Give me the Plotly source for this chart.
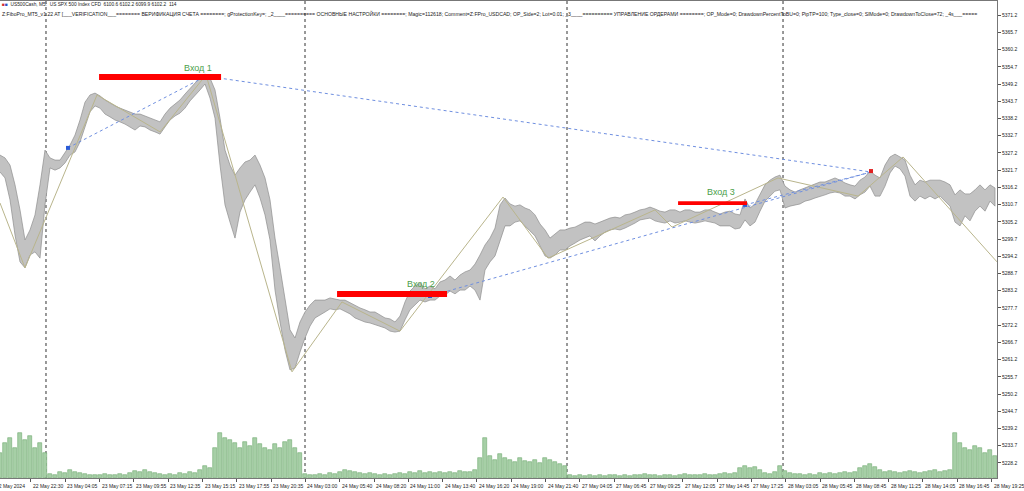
import numpy as np
import plotly.graph_objects as go

# ---------------- data ----------------
# price range per sample (each sample ~ 4.66 M5 bars)
high = [5326.5, 5325.6, 5323.3, 5317.0, 5309.0, 5299.4, 5302.6, 5307.4, 5317.0, 5328.1,
        5325.6, 5324.9, 5324.9, 5327.5, 5329.7, 5332.9, 5337.7, 5343.4, 5345.7, 5346.3,
        5345.4, 5344.1, 5343.1, 5342.2, 5341.5, 5340.9, 5340.3, 5339.6, 5339.6, 5339.0,
        5338.3, 5337.7, 5337.1, 5339.6, 5341.5, 5342.8, 5344.1, 5346.0, 5347.9, 5349.5,
        5351.1, 5352.4, 5351.1, 5347.3, 5338.3, 5328.1, 5323.3, 5320.1, 5322.4, 5324.3,
        5324.9, 5326.5, 5323.3, 5319.2, 5312.2, 5300.0, 5290.5, 5280.9, 5270.7, 5268.1,
        5273.2, 5276.4, 5278.6, 5280.2, 5280.2, 5280.2, 5280.9, 5280.6, 5280.2, 5280.2,
        5279.3, 5278.6, 5277.7, 5277.1, 5276.4, 5276.4, 5275.5, 5274.5, 5274.2, 5273.2,
        5275.1, 5279.6, 5283.1, 5284.7, 5285.7, 5283.8, 5284.7, 5283.8, 5286.0, 5286.6,
        5287.9, 5286.6, 5288.2, 5289.2, 5289.8, 5291.7, 5294.6, 5297.8, 5300.0, 5303.2,
        5310.6, 5312.8, 5310.9, 5310.2, 5310.6, 5309.6, 5309.0, 5307.4, 5304.5, 5302.6,
        5300.0, 5301.3, 5302.6, 5302.6, 5303.2, 5303.5, 5304.2, 5305.1, 5305.1, 5304.5,
        5305.1, 5305.8, 5306.4, 5306.7, 5306.4, 5307.4, 5307.7, 5308.3, 5309.0, 5309.3,
        5309.9, 5309.3, 5308.6, 5308.3, 5309.0, 5309.0, 5308.3, 5309.0, 5309.0, 5308.3,
        5308.3, 5309.0, 5309.0, 5308.3, 5307.7, 5308.3, 5308.6, 5307.7, 5307.4, 5312.5,
        5309.6, 5310.9, 5314.1, 5317.0, 5318.5, 5319.5, 5320.1, 5316.6, 5315.4, 5314.7,
        5315.4, 5316.0, 5316.6, 5317.3, 5317.9, 5317.9, 5318.5, 5319.2, 5318.5, 5317.6,
        5317.0, 5316.6, 5318.5, 5319.5, 5321.4, 5320.1, 5319.2, 5323.3, 5325.9, 5326.8,
        5325.9, 5324.9, 5320.1, 5317.0, 5318.5, 5317.9, 5318.5, 5318.5, 5318.5, 5317.9,
        5317.0, 5313.8, 5315.4, 5314.1, 5314.1, 5315.4, 5317.0, 5315.4, 5317.0, 5316.0]
low = [5321.1, 5319.2, 5312.2, 5301.0, 5292.4, 5290.5, 5294.6, 5295.6, 5293.6, 5310.6,
       5322.4, 5321.7, 5322.4, 5324.0, 5326.5, 5327.5, 5330.7, 5335.1, 5340.3, 5342.2,
       5341.5, 5339.6, 5338.7, 5337.7, 5337.1, 5336.4, 5335.5, 5334.5, 5335.8, 5335.5,
       5334.5, 5333.9, 5333.2, 5335.5, 5337.7, 5339.0, 5339.9, 5341.5, 5343.8, 5345.7,
       5347.3, 5349.2, 5344.7, 5338.3, 5323.3, 5310.6, 5305.1, 5300.0, 5308.3, 5312.2,
       5314.7, 5317.0, 5312.8, 5307.4, 5299.4, 5283.4, 5273.2, 5264.3, 5257.9, 5258.5,
       5263.6, 5268.1, 5271.9, 5274.5, 5275.5, 5276.4, 5277.4, 5277.1, 5277.4, 5276.7,
       5275.8, 5274.5, 5273.9, 5273.2, 5272.9, 5272.3, 5271.9, 5271.3, 5270.3, 5270.0,
       5270.3, 5273.9, 5277.1, 5278.6, 5280.2, 5279.6, 5280.2, 5280.2, 5281.5, 5281.8,
       5283.1, 5282.2, 5283.4, 5283.4, 5284.7, 5283.4, 5280.2, 5289.8, 5292.4, 5294.3,
       5299.4, 5303.9, 5303.9, 5305.1, 5305.5, 5303.9, 5302.3, 5300.7, 5297.5, 5294.3,
       5293.6, 5294.6, 5296.2, 5296.2, 5297.5, 5298.4, 5299.4, 5300.0, 5300.7, 5299.1,
       5300.7, 5301.9, 5302.6, 5302.9, 5302.6, 5303.2, 5303.9, 5304.8, 5305.8, 5306.1,
       5306.4, 5305.5, 5305.1, 5304.8, 5305.5, 5304.8, 5305.1, 5305.5, 5305.1, 5304.8,
       5305.1, 5305.5, 5305.1, 5304.8, 5303.9, 5303.9, 5303.9, 5302.9, 5303.2, 5305.8,
       5303.9, 5305.1, 5308.6, 5311.8, 5313.4, 5315.0, 5315.4, 5309.6, 5310.2, 5310.6,
       5310.9, 5311.8, 5312.2, 5312.8, 5313.4, 5313.8, 5314.4, 5314.7, 5314.4, 5313.4,
       5313.4, 5312.5, 5313.8, 5314.7, 5316.6, 5313.4, 5313.4, 5316.6, 5320.8, 5323.0,
       5322.1, 5319.8, 5313.4, 5311.8, 5313.4, 5312.5, 5313.4, 5312.5, 5313.4, 5311.8,
       5310.2, 5305.1, 5303.9, 5307.1, 5305.5, 5308.6, 5310.2, 5308.6, 5311.8, 5310.2]
volume = [750, 1050, 1200, 900, 1350, 1140, 1260, 900, 1050, 750,
          120, 90, 180, 150, 240, 180, 150, 120, 90, 90,
          90, 120, 90, 90, 120, 90, 150, 210, 180, 240,
          180, 150, 120, 90, 120, 90, 150, 120, 180, 150,
          240, 360, 300, 900, 1350, 1200, 1140, 1050, 900, 1080,
          960, 1200, 1020, 900, 840, 1020, 900, 1080, 1140, 900,
          750, 120, 90, 90, 120, 90, 150, 120, 180, 240,
          210, 180, 150, 120, 150, 120, 90, 120, 90, 120,
          150, 120, 180, 150, 210, 150, 180, 150, 180, 150,
          180, 150, 210, 180, 180, 240, 600, 1200, 660, 540,
          720, 600, 540, 480, 600, 510, 480, 540, 450, 600,
          540, 480, 420, 360, 90, 60, 90, 60, 90, 60,
          90, 60, 90, 90, 60, 90, 60, 90, 90, 120,
          90, 90, 60, 90, 90, 60, 90, 120, 90, 90,
          90, 120, 90, 90, 120, 150, 120, 150, 300, 360,
          300, 330, 240, 150, 120, 180, 360, 210, 150, 120,
          120, 90, 120, 90, 150, 120, 150, 120, 150, 180,
          150, 180, 300, 360, 420, 330, 240, 180, 210, 180,
          150, 180, 210, 180, 150, 180, 210, 240, 180, 210,
          240, 1350, 1050, 900, 840, 960, 900, 750, 840, 660]

# zigzag swing points (bar index, price)
zz_bar = [0, 23.3, 90.5, 149.3, 192.2, 272.4, 319.0, 373.1, 469.2, 511.2, 611.0, 626.9, 725.7, 800.4, 842.4, 930.0]
zz_price = [5311.2, 5290.5, 5345.7, 5333.9, 5352.1, 5257.3, 5279.6, 5270.3, 5313.1, 5293.6, 5309.0, 5303.5,
            5319.2, 5313.4, 5325.9, 5292.4]

# dotted connecting lines (start bar, start price, end bar, end price)
link_bar0 = [63.4, 192.2, 401.1, 695.0]
link_price0 = [5328.8, 5351.7, 5281.5, 5310.6]
link_bar1 = [192.2, 812.5, 812.5, 812.5]
link_price1 = [5351.7, 5321.1, 5321.1, 5321.1]

# entries
entry_names = ["Вход 1", "Вход 2", "Вход 3"]
entry_start_bar = [92.4, 314.4, 632.5]
entry_end_bar = [206.2, 417.0, 696.8]
entry_top = [5352.4, 5283.1, 5311.8]
entry_bottom = [5350.5, 5281.2, 5310.6]
entry_label_bar = [184.7, 392.7, 672.6]
entry_label_price = [5354.3, 5285.3, 5314.7]

# markers
mark_bar = [63.4, 192.2, 401.1, 695.0, 812.5]
mark_price = [5328.8, 5351.7, 5281.5, 5310.6, 5321.4]
mark_color = ["#2a5bd7", "#2e8b57", "#2a5bd7", "#2a5bd7", "#e02020"]

# day separators (bar index)
day_start_bars = [42.9, 284.5, 528.9, 730.4]

# time axis
tick_labels = ["22 May 22:30", "23 May 04:05", "23 May 07:15", "23 May 09:55", "23 May 12:35",
               "23 May 15:15", "23 May 17:55", "23 May 20:35", "24 May 03:00", "24 May 05:40",
               "24 May 08:20", "24 May 11:00", "24 May 13:40", "24 May 16:20", "24 May 19:00",
               "24 May 21:40", "27 May 04:05", "27 May 06:45", "27 May 09:25", "27 May 12:05",
               "27 May 14:45", "27 May 17:25", "28 May 03:05", "28 May 05:45", "28 May 08:45",
               "28 May 11:25", "28 May 14:05", "28 May 16:45", "28 May 19:25"]
first_label = "22 May 2024"
price_ticks = [5228.2 + 5.5 * k for k in range(27)]

header1 = "US500Cash, M5:  US SPX 500 Index CFD  6100.6 6102.2 6099.9 6102.2  114"
header2 = ("Z:FiboPro_MT5_v1.22 AT [___VERIFICATION___======== ВЕРИФИКАЦИЯ СЧЕТА ========; gProtectionKey=; "
           "_2____========== ОСНОВНЫЕ НАСТРОЙКИ ========; Magic=112618; Comment=Z:FPro_USDCAD; OP_Side=2; Lot=0.01; "
           "_3____========== УПРАВЛЕНИЕ ОРДЕРАМИ ========; OP_Mode=0; DrawdownPercentToBU=0; PipTP=100; "
           "Type_close=0; SlMode=0; DrawdownToClose=72; _4s___=====")

# ---------------- figure ----------------
BARS_PER_SAMPLE = 4.664
BAR_TICK_OFFSET = 28.9
X_MAX = 930.0
Y_MIN, Y_MAX = 5223.4, 5375.7
FONT = "Liberation Sans Narrow, Liberation Sans, Arial"

sample_bar = np.arange(len(high)) * BARS_PER_SAMPLE
tick_bars = BAR_TICK_OFFSET + 32 * np.arange(len(tick_labels))

fig = go.Figure()

# volumes
fig.add_trace(go.Bar(x=sample_bar, y=volume, yaxis="y2", width=BARS_PER_SAMPLE * 0.75,
                     marker=dict(color="#a6cfa6", line=dict(color="#70aa70", width=0.6)),
                     hoverinfo="skip", showlegend=False))

# price bars as high/low band
fig.add_trace(go.Scatter(x=np.concatenate([sample_bar, sample_bar[::-1]]),
                         y=np.concatenate([np.array(high), np.array(low)[::-1]]),
                         fill="toself", fillcolor="#c2c2c2", mode="lines",
                         line=dict(color="#8e8e8e", width=0.7), hoverinfo="skip", showlegend=False))

# zigzag
fig.add_trace(go.Scatter(x=zz_bar, y=zz_price, mode="lines",
                         line=dict(color="#b9b58c", width=1), hoverinfo="skip", showlegend=False))

# dotted links
for b0, p0, b1, p1 in zip(link_bar0, link_price0, link_bar1, link_price1):
    fig.add_trace(go.Scatter(x=[b0, b1], y=[p0, p1], mode="lines",
                             line=dict(color="#6f8fe0", width=1, dash="dot"),
                             hoverinfo="skip", showlegend=False))

# entry rectangles + labels
for name, s, e, t, b, lb, lp in zip(entry_names, entry_start_bar, entry_end_bar, entry_top, entry_bottom,
                                    entry_label_bar, entry_label_price):
    fig.add_shape(type="rect", x0=s, x1=e, y0=b, y1=t, xref="x", yref="y",
                  fillcolor="#ff0000", line=dict(width=0), layer="above")
    fig.add_annotation(x=lb, y=lp, text=name, showarrow=False, xref="x", yref="y",
                       font=dict(family="Liberation Sans", size=9, color="#4aa04a"))

fig.add_trace(go.Scatter(x=mark_bar, y=mark_price, mode="markers",
                         marker=dict(color=mark_color, size=4, symbol="square"),
                         hoverinfo="skip", showlegend=False))

# day separators
for d in day_start_bars:
    fig.add_shape(type="line", x0=d, x1=d, y0=0, y1=1, xref="x", yref="paper",
                  line=dict(color="#333333", width=1, dash="dot"), layer="below")

# header texts
fig.add_annotation(x=0.0, y=0.992, xref="paper", yref="paper", xanchor="left", yanchor="middle",
                   text="<span style='color:#d03030'>■</span><span style='color:#3050c0'>■</span>  " + header1,
                   showarrow=False, font=dict(family=FONT, size=4.8, color="#222"))
fig.add_annotation(x=0.0, y=0.974, xref="paper", yref="paper", xanchor="left", yanchor="middle",
                   text=header2, showarrow=False, font=dict(family=FONT, size=5.15, color="#222"))

axis_font = dict(family=FONT, size=5, color="#222")
# time labels (text starts right of its tick, like the terminal)
fig.add_annotation(x=-6 / 997, y=0, xref="paper", yref="paper", xanchor="left", yanchor="top", yshift=-3,
                   text=first_label, showarrow=False, font=axis_font)
for tb, tl in zip(tick_bars, tick_labels):
    fig.add_annotation(x=tb, y=0, xref="x", yref="paper", xanchor="left", yanchor="top",
                       xshift=0, yshift=-3, text=tl, showarrow=False, font=axis_font)

fig.update_layout(
    width=1024, height=491,
    margin=dict(l=0, r=27, t=1, b=13, autoexpand=False),
    paper_bgcolor="white", plot_bgcolor="white",
    bargap=0,
    xaxis=dict(range=[0, X_MAX], tickmode="array", tickvals=tick_bars, showticklabels=False,
               automargin=False, ticks="outside", ticklen=3, tickcolor="#555",
               showgrid=False, zeroline=False,
               showline=True, linecolor="#777", linewidth=1, mirror=True),
    yaxis=dict(range=[Y_MIN, Y_MAX], side="right", tickmode="array", tickvals=price_ticks,
               ticktext=[f"{v:.1f}" for v in price_ticks], ticks="outside", ticklen=3, tickcolor="#555",
               tickfont=axis_font, showgrid=False, zeroline=False, automargin=False,
               showline=True, linecolor="#777", linewidth=1, mirror=True),
    yaxis2=dict(range=[0, 14310], overlaying="y", visible=False),
)

fig.write_html("out.html", config={"displayModeBar": False},
               post_script="document.body.style.margin='0px';document.body.style.overflow='hidden';")
